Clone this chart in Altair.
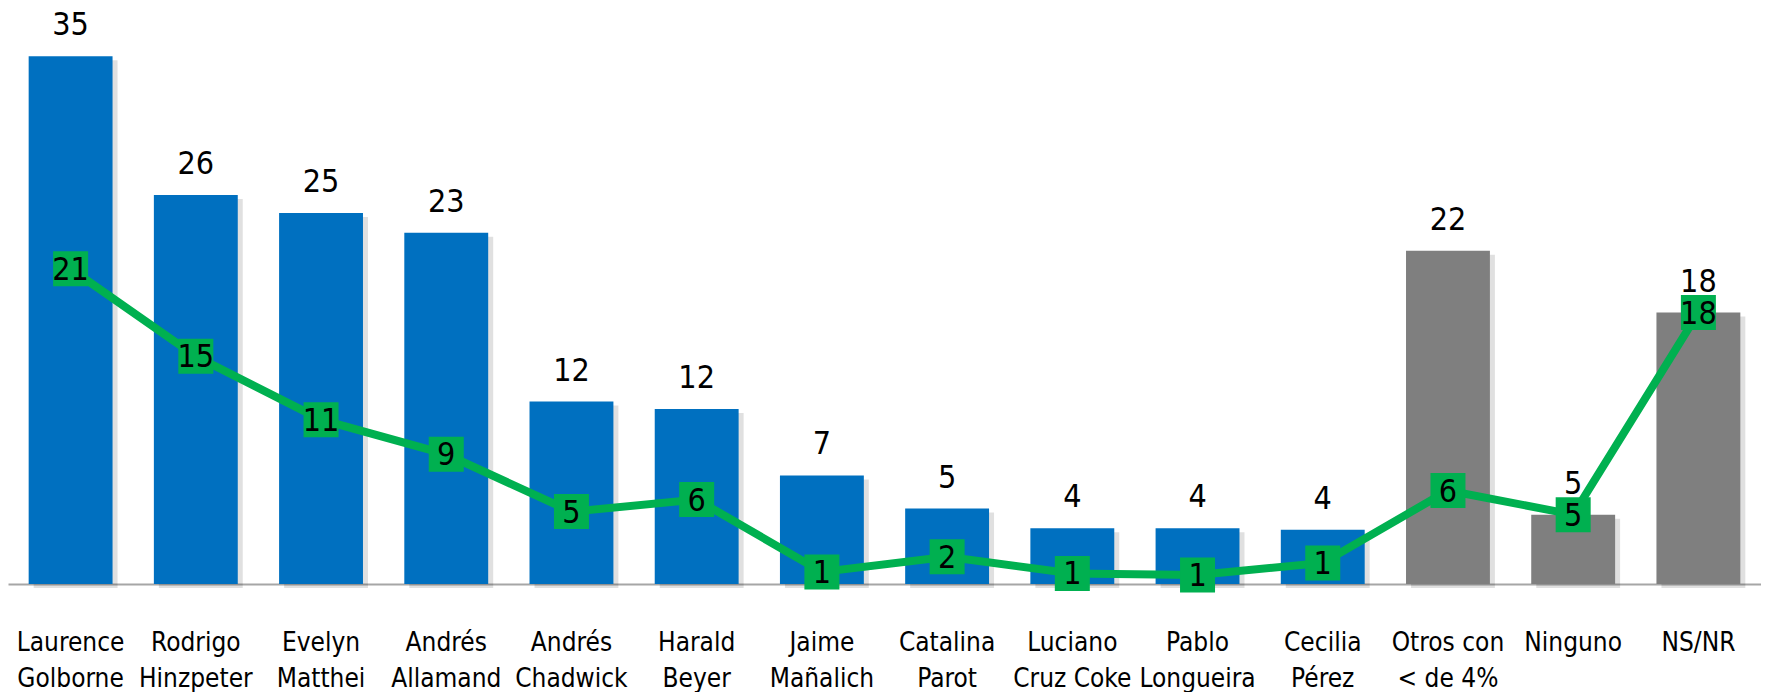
import altair as alt
import pandas as pd

categories = ["Laurence|Golborne", "Rodrigo|Hinzpeter", "Evelyn|Matthei", "Andrés|Allamand",
              "Andrés|Chadwick", "Harald|Beyer", "Jaime|Mañalich", "Catalina|Parot",
              "Luciano|Cruz Coke", "Pablo|Longueira", "Cecilia|Pérez", "Otros con|< de 4%",
              "Ninguno", "NS/NR"]
bar_values = [35.0, 25.8, 24.6, 23.3, 12.1, 11.6, 7.2, 5.0, 3.7, 3.7, 3.6, 22.1, 4.6, 18.0]
line_values = [20.9, 15.1, 10.9, 8.6, 4.8, 5.6, 0.8, 1.8, 0.7, 0.6, 1.4, 6.2, 4.6, 18.0]
groups = ["candidato"] * 11 + ["otro"] * 3

df = pd.DataFrame({"cat": categories, "bar": bar_values, "line": line_values, "grp": groups})

FONT = "DejaVu Sans Condensed, DejaVu Sans, sans-serif"

x = alt.X("cat:N", sort=categories,
          scale=alt.Scale(paddingInner=0.33, paddingOuter=0.165),
          axis=alt.Axis(title=None, labelExpr="split(datum.value, '|')", labelAngle=0,
                        ticks=False, domainColor="#a6a6a6", domainWidth=2,
                        labelFont=FONT, labelFontSize=26, labelColor="black",
                        labelPadding=45, labelLineHeight=36, labelBaseline="top",
                        labelAlign="center", labelLimit=0, grid=False))
yscale = alt.Scale(domain=[0, 38.2], nice=False)

base = alt.Chart(df)

shadow = base.mark_bar(color="#000000", opacity=0.12, xOffset=5, x2Offset=7, yOffset=4).encode(
    x=x, y=alt.Y("bar:Q", scale=yscale, axis=None))

bars = base.mark_bar().encode(
    x=x,
    y=alt.Y("bar:Q", scale=yscale, axis=None),
    color=alt.Color("grp:N", scale=alt.Scale(domain=["candidato", "otro"],
                                             range=["#0070C0", "#7F7F7F"]), legend=None))

bar_labels = base.mark_text(font=FONT, fontSize=32, color="black", baseline="alphabetic",
                            dy=-21).encode(
    x=x, y=alt.Y("bar:Q", scale=yscale, axis=None),
    text=alt.Text("bar:Q", format=".0f"))

line = base.mark_line(color="#00B050", strokeWidth=8).encode(
    x=x, y=alt.Y("line:Q", scale=yscale, axis=None))

squares = base.mark_point(shape="square", filled=True, size=1225, color="#00B050",
                          opacity=1).encode(
    x=x, y=alt.Y("line:Q", scale=yscale, axis=None))

line_labels = base.mark_text(font=FONT, fontSize=32, color="black", baseline="middle",
                             dy=1).encode(
    x=x, y=alt.Y("line:Q", scale=yscale, axis=None),
    text=alt.Text("line:Q", format=".0f"))

chart = alt.layer(shadow, bars, bar_labels, line, squares, line_labels).properties(
    width=1753, height=576,
    padding={"left": 0, "top": 0, "right": 0, "bottom": 108},
    autosize=alt.AutoSizeParams(type="none"),
).configure_view(stroke=None)

chart.save("out.html", embed_options={"renderer": "svg", "actions": False})
